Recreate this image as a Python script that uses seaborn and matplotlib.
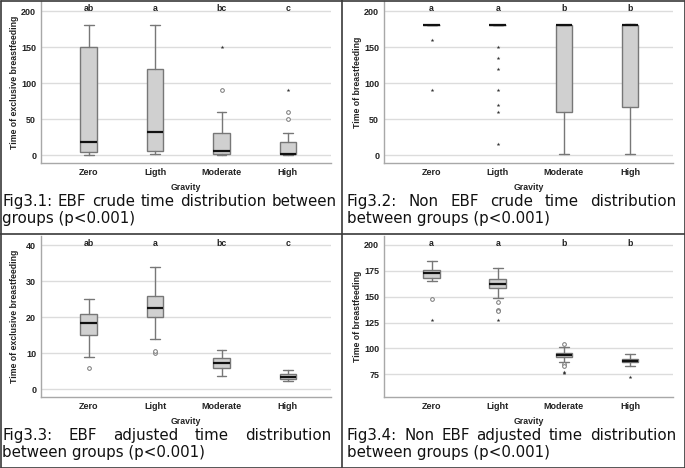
import matplotlib
matplotlib.use("Agg")
import matplotlib.pyplot as plt
from matplotlib.lines import Line2D
import seaborn as sns

sns.set_style("white")
plt.rcParams["font.family"] = ["Liberation Sans", "DejaVu Sans"]

# ---- data ----
groups_a = ["Zero", "Ligth", "Moderate", "High"]
groups_b = ["Zero", "Light", "Moderate", "High"]

# Fig3.1 EBF crude
p1_lo = [0, 1, 0, 0]
p1_q1 = [4, 5, 1, 1]
p1_med = [18, 32, 6, 2]
p1_q3 = [150, 120, 30, 18]
p1_hi = [180, 180, 60, 30]
p1_circles = [[], [], [90], [50, 60]]
p1_stars = [[], [], [150], [90]]
p1_letters = ["ab", "a", "bc", "c"]

# Fig3.2 Non EBF crude
p2_lo = [180, 180, 2, 2]
p2_q1 = [180, 180, 60, 67]
p2_med = [180, 180, 180, 180]
p2_q3 = [180, 180, 180, 180]
p2_hi = [180, 180, 180, 182]
p2_circles = [[], [], [], []]
p2_stars = [[160, 90], [150, 135, 120, 90, 70, 60, 15], [], []]
p2_letters = ["a", "a", "b", "b"]

# Fig3.3 EBF adjusted
p3_lo = [9, 14, 3.8, 2.3]
p3_q1 = [15, 20, 6, 3]
p3_med = [18.3, 22.5, 7.2, 3.5]
p3_q3 = [21, 26, 8.6, 4.4]
p3_hi = [25, 34, 11, 5.5]
p3_circles = [[6], [10, 10.6], [], []]
p3_stars = [[], [], [], []]
p3_letters = ["ab", "a", "bc", "c"]

# Fig3.4 Non EBF adjusted
p4_lo = [165, 149, 87, 83]
p4_q1 = [168, 158, 91.5, 86.5]
p4_med = [173, 162, 93.5, 88]
p4_q3 = [176, 167, 95.5, 90]
p4_hi = [185, 178, 101, 94.5]
p4_circles = [[148], [145, 137, 136], [104, 85, 83], []]
p4_stars = [[127], [127], [76, 77], [72]]
p4_letters = ["a", "a", "b", "b"]

W, H = 685, 468
fig = plt.figure(figsize=(W / 100, H / 100), dpi=100)


def px_axes(left, top, right, bottom):
    return fig.add_axes([left / W, 1 - bottom / H, (right - left) / W, (bottom - top) / H])


def panel(ax, groups, lo, q1, med, q3, hi, circles, stars, letters,
          ylabel, yticks, ylim):
    stats = []
    for i in range(len(groups)):
        stats.append(dict(whislo=lo[i], q1=q1[i], med=med[i], q3=q3[i],
                          whishi=hi[i], fliers=[]))
    pos = list(range(len(groups)))
    ax.bxp(stats, positions=pos, widths=0.25, capwidths=0.15,
           patch_artist=True, showfliers=False,
           boxprops=dict(facecolor="#d0d0d0", edgecolor="#777777", linewidth=1.0),
           whiskerprops=dict(color="#777777", linewidth=1.0),
           capprops=dict(color="#777777", linewidth=1.0),
           medianprops=dict(color="#111111", linewidth=1.6),
           zorder=3)
    cx, cy, sx, sy = [], [], [], []
    for i in pos:
        cx += [i] * len(circles[i])
        cy += circles[i]
        sx += [i] * len(stars[i])
        sy += stars[i]
    if cx:
        sns.scatterplot(x=cx, y=cy, ax=ax, marker="o", s=7, facecolor="white",
                        edgecolor="#777777", linewidth=0.7, zorder=4)
    if sy:
        sns.scatterplot(x=sx, y=sy, ax=ax, marker="*", s=8, color="#333333",
                        linewidth=0, zorder=4)
    ax.set_xlim(-0.72, 3.65)
    ax.set_ylim(*ylim)
    ax.set_yticks(yticks)
    ax.set_xticks(pos)
    ax.set_xticklabels(groups)
    ax.yaxis.grid(True, color="#dcdcdc", linewidth=1.0)
    ax.set_axisbelow(True)
    for s in ["top", "right"]:
        ax.spines[s].set_visible(False)
    for s in ["left", "bottom"]:
        ax.spines[s].set_color("#a8a8a8")
        ax.spines[s].set_linewidth(1.0)
    ax.tick_params(axis="both", labelsize=6.5, length=2, color="#a8a8a8",
                   pad=1.5, labelcolor="#222222")
    for lab in ax.get_xticklabels() + ax.get_yticklabels():
        lab.set_fontweight("bold")
    ax.set_xlabel("Gravity", fontsize=6.3, fontweight="bold", color="#222222")
    ax.set_ylabel(ylabel, fontsize=6.3, fontweight="bold", color="#222222")
    ax.xaxis.set_label_coords(0.5, -0.125)
    ax.yaxis.set_label_coords(-0.076, 0.5)
    for i, t in enumerate(letters):
        ax.text(i, ylim[1] - (ylim[1] - ylim[0]) * 0.045, t, ha="center",
                va="center", fontsize=6.3, fontweight="bold", color="#222222")


ax1 = px_axes(41, 1, 331, 163)
panel(ax1, groups_a, p1_lo, p1_q1, p1_med, p1_q3, p1_hi, p1_circles, p1_stars,
      p1_letters, "Time of exclusive breastfeeding", [0, 50, 100, 150, 200], (-11, 214))

ax2 = px_axes(384, 1, 673, 163)
panel(ax2, groups_a, p2_lo, p2_q1, p2_med, p2_q3, p2_hi, p2_circles, p2_stars,
      p2_letters, "Time of breastfeeding", [0, 50, 100, 150, 200], (-11, 214))

ax3 = px_axes(41, 236, 331, 397)
panel(ax3, groups_b, p3_lo, p3_q1, p3_med, p3_q3, p3_hi, p3_circles, p3_stars,
      p3_letters, "Time of exclusive breastfeeding", [0, 10, 20, 30, 40], (-2.1, 42.5))

ax4 = px_axes(384, 236, 673, 397)
panel(ax4, groups_b, p4_lo, p4_q1, p4_med, p4_q3, p4_hi, p4_circles, p4_stars,
      p4_letters, "Time of breastfeeding", [75, 100, 125, 150, 175, 200], (53, 208.7))

# ---- captions (first line justified across the cell) ----
captions = [
    (["Fig3.1: EBF crude time distribution between", "groups (p<0.001)"], 2, 337, 206),
    (["Fig3.2: Non EBF crude time distribution", "between groups (p<0.001)"], 347, 676, 206),
    (["Fig3.3: EBF adjusted time distribution", "between groups (p<0.001)"], 2, 331, 440),
    (["Fig3.4: Non EBF adjusted time distribution", "between groups (p<0.001)"], 347, 676, 440),
]
CAP_FS = 10.8
CAP_FONT = ["DejaVu Sans"]
fig.canvas.draw()
renderer = fig.canvas.get_renderer()
space_px = CAP_FS * 100 / 72 * 0.32
for lines, x0, x1, base in captions:
    for li, line in enumerate(lines):
        y = 1 - (base + li * 16.5) / H
        if li == 0:
            words = line.split(" ")
            texts = [fig.text(0, y, w, fontsize=CAP_FS, family=CAP_FONT,
                              color="#111111", va="baseline")
                     for w in words]
            widths = [t.get_window_extent(renderer).width for t in texts]
            gap = max(((x1 - x0) - sum(widths)) / (len(words) - 1), space_px)
            x = x0
            for t, w in zip(texts, widths):
                t.set_x(x / W)
                x += w + gap
        else:
            fig.text(x0 / W, y, line, fontsize=CAP_FS, family=CAP_FONT,
                     color="#111111", va="baseline")

# ---- table borders ----
bc = "#3a3a3a"
for (xa, ya, xb, yb) in [(0.5, 0.5, W - 0.5, 0.5), (0.5, H - 0.5, W - 0.5, H - 0.5),
                         (0.5, 0.5, 0.5, H - 0.5), (W - 0.5, 0.5, W - 0.5, H - 0.5),
                         (342, 0, 342, H), (0, 234, W, 234)]:
    fig.add_artist(Line2D([xa / W, xb / W], [1 - ya / H, 1 - yb / H],
                          transform=fig.transFigure, color=bc, linewidth=1.2))

plt.savefig("out.png", dpi=100)
